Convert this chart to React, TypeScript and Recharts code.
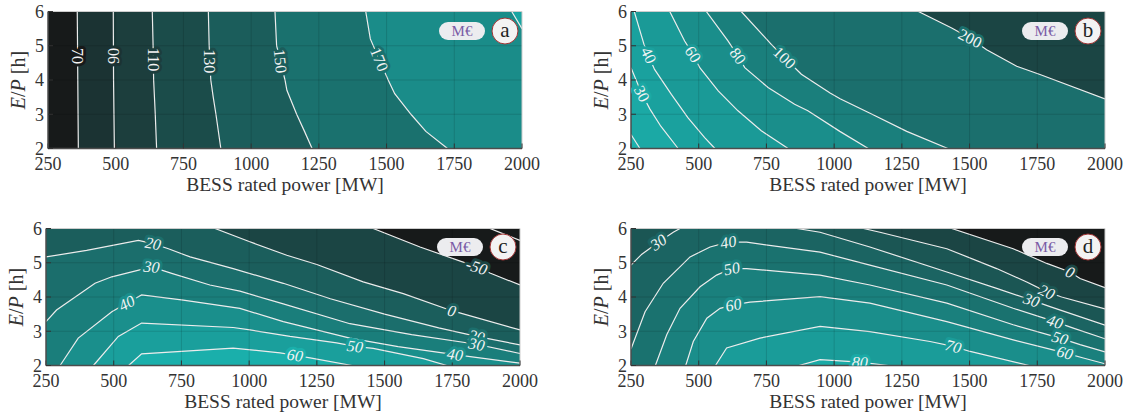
import { ComposedChart, Area, Line, Scatter, XAxis, YAxis, ReferenceLine } from 'recharts'

type Pt = { x: number; y: number }
type Lab = { x: number; y: number; level: number }

const xTicks = [250, 500, 750, 1000, 1250, 1500, 1750, 2000]
const yTicks = [2, 3, 4, 5, 6]
// whole domain, used as the background band
const frame = [{ x: 250, y: 6 }, { x: 2000, y: 6 }]

// ---- panel a ----
const levelsA = [190, 170, 150, 130, 110, 90, 70]
const a190 = [{ x: 250, y: 6.5 }, { x: 1962, y: 6 }, { x: 2000, y: 5.5 }]
const a170 = [{ x: 250, y: 6.5 }, { x: 1423, y: 6 }, { x: 1440, y: 5.2 }, { x: 1506, y: 4.0 }, { x: 1530, y: 3.6 }, { x: 1590, y: 3.0 }, { x: 1645, y: 2.5 }, { x: 1725, y: 2 }]
const a150 = [{ x: 250, y: 6.5 }, { x: 1088, y: 6 }, { x: 1094, y: 5 }, { x: 1125, y: 4 }, { x: 1132, y: 3.7 }, { x: 1168, y: 3 }, { x: 1197, y: 2.5 }, { x: 1225, y: 2 }]
const a130 = [{ x: 250, y: 6.5 }, { x: 842, y: 6 }, { x: 845, y: 5 }, { x: 851, y: 4 }, { x: 860, y: 3.5 }, { x: 870, y: 3 }, { x: 888, y: 2 }]
const a110 = [{ x: 250, y: 6.5 }, { x: 635, y: 6 }, { x: 638, y: 5 }, { x: 640, y: 4 }, { x: 646, y: 3 }, { x: 651, y: 2 }]
const a90 = [{ x: 250, y: 6.5 }, { x: 491, y: 6 }, { x: 492, y: 4 }, { x: 495, y: 2 }]
const a70 = [{ x: 250, y: 6.5 }, { x: 358, y: 6 }, { x: 360, y: 4 }, { x: 362, y: 2 }]
const fillsA = ['#1a8c89', '#1a716e', '#1b5d5b', '#1b4c4a', '#1c3e3d', '#1b3333', '#171a1a']
const labelsA = [
  { x: 359, y: 4.7, level: 70 }, { x: 491.5, y: 4.7, level: 90 }, { x: 639, y: 4.6, level: 110 },
  { x: 848, y: 4.55, level: 130 }, { x: 1108, y: 4.55, level: 150 }, { x: 1473, y: 4.6, level: 170 },
]
const anglesA = [90, -90, 90, 90, 84, 68]

// ---- panel b ----
const levelsB = [200, 100, 80, 60, 40, 30, 20]
const b200 = [{ x: 250, y: 7 }, { x: 1311, y: 6 }, { x: 1434, y: 5.52 }, { x: 1502, y: 5.22 }, { x: 1563, y: 4.88 }, { x: 1674, y: 4.4 }, { x: 1760, y: 4.16 }, { x: 2000, y: 3.45 }]
const b100 = [{ x: 250, y: 7 }, { x: 657, y: 6 }, { x: 768, y: 5.04 }, { x: 817, y: 4.65 }, { x: 879, y: 4.17 }, { x: 985, y: 3.62 }, { x: 1022, y: 3.45 }, { x: 1140, y: 3.0 }, { x: 1268, y: 2.5 }, { x: 1420, y: 2 }]
const b80 = [{ x: 250, y: 7 }, { x: 528, y: 6 }, { x: 608, y: 5.14 }, { x: 645, y: 4.7 }, { x: 670, y: 4.36 }, { x: 756, y: 3.78 }, { x: 854, y: 3.29 }, { x: 903, y: 3.1 }, { x: 1021, y: 2.5 }, { x: 1126, y: 2 }]
const b60 = [{ x: 250, y: 6.6 }, { x: 393, y: 6 }, { x: 448, y: 5.14 }, { x: 479, y: 4.75 }, { x: 504, y: 4.36 }, { x: 572, y: 3.68 }, { x: 645, y: 3.1 }, { x: 731, y: 2.52 }, { x: 830, y: 2 }]
const b40 = [{ x: 250, y: 6.2 }, { x: 262, y: 6 }, { x: 298, y: 5.04 }, { x: 315, y: 4.7 }, { x: 337, y: 4.31 }, { x: 399, y: 3.58 }, { x: 460, y: 2.9 }, { x: 522, y: 2.32 }, { x: 560, y: 2 }]
const b30 = [{ x: 250, y: 4.36 }, { x: 270, y: 3.98 }, { x: 290, y: 3.6 }, { x: 320, y: 3.15 }, { x: 360, y: 2.65 }, { x: 424, y: 2 }]
const b20 = [{ x: 250, y: 2.41 }, { x: 283, y: 2 }]
const fillsB = ['#1b6f6d', '#1a7f7c', '#1a8e8b', '#1a9a97', '#1aa19e', '#1ba9a5', '#1bb1ad']
const labelsB = [
  { x: 290, y: 3.6, level: 30 }, { x: 315, y: 4.72, level: 40 }, { x: 479, y: 4.75, level: 60 },
  { x: 645, y: 4.7, level: 80 }, { x: 817, y: 4.65, level: 100 }, { x: 1502, y: 5.22, level: 200 },
]
const anglesB = [62, 64, 57, 54, 44, 27]

// ---- panel c ----
const levelsC = [-50, 0, 20, 30, 40, 50, 60]
const cm50 = [{ x: 250, y: 7 }, { x: 1458, y: 6 }, { x: 1631, y: 5.46 }, { x: 1840, y: 4.88 }, { x: 1889, y: 4.7 }, { x: 2000, y: 4.35 }]
const c0 = [{ x: 250, y: 6.5 }, { x: 874, y: 6 }, { x: 1000, y: 5.62 }, { x: 1139, y: 5.22 }, { x: 1250, y: 4.95 }, { x: 1421, y: 4.44 }, { x: 1569, y: 4.1 }, { x: 1748, y: 3.6 }, { x: 2000, y: 3.04 }]
const c20 = [{ x: 250, y: 5.17 }, { x: 400, y: 5.36 }, { x: 591, y: 5.65 }, { x: 645, y: 5.56 }, { x: 702, y: 5.41 }, { x: 782, y: 5.17 }, { x: 941, y: 4.83 }, { x: 1126, y: 4.4 }, { x: 1300, y: 3.95 }, { x: 1500, y: 3.5 }, { x: 1700, y: 3.1 }, { x: 1840, y: 2.85 }, { x: 2000, y: 2.6 }]
const c30 = [{ x: 250, y: 3.28 }, { x: 289, y: 3.62 }, { x: 431, y: 4.4 }, { x: 493, y: 4.59 }, { x: 640, y: 4.88 }, { x: 714, y: 4.69 }, { x: 855, y: 4.35 }, { x: 966, y: 4.17 }, { x: 1126, y: 3.8 }, { x: 1372, y: 3.22 }, { x: 1600, y: 2.9 }, { x: 1840, y: 2.62 }, { x: 2000, y: 2.35 }]
const c40 = [{ x: 302, y: 2 }, { x: 369, y: 2.8 }, { x: 493, y: 3.57 }, { x: 548, y: 3.82 }, { x: 603, y: 4.06 }, { x: 757, y: 3.91 }, { x: 966, y: 3.67 }, { x: 1126, y: 3.28 }, { x: 1372, y: 2.8 }, { x: 1550, y: 2.55 }, { x: 1760, y: 2.32 }, { x: 2000, y: 2.07 }]
const c50 = [{ x: 425, y: 2 }, { x: 517, y: 2.85 }, { x: 603, y: 3.24 }, { x: 941, y: 3.11 }, { x: 1003, y: 3.04 }, { x: 1151, y: 2.85 }, { x: 1323, y: 2.66 }, { x: 1391, y: 2.56 }, { x: 1458, y: 2.5 }, { x: 1643, y: 2.2 }, { x: 1730, y: 2 }]
const c60 = [{ x: 555, y: 2 }, { x: 603, y: 2.34 }, { x: 941, y: 2.51 }, { x: 1114, y: 2.37 }, { x: 1169, y: 2.3 }, { x: 1225, y: 2.22 }, { x: 1380, y: 2 }]
const cCorner = [{ x: 1889, y: 6 }, { x: 2000, y: 5.65 }]
const fillsC = ['#1b4544', '#1b5e5c', '#1b6e6c', '#1a7e7b', '#1a8f8c', '#1a9f9c', '#1aafab']
const labelsC = [
  { x: 645, y: 5.56, level: 20 }, { x: 640, y: 4.88, level: 30 }, { x: 548, y: 3.82, level: 40 },
  { x: 1169, y: 2.3, level: 60 }, { x: 1391, y: 2.56, level: 50 }, { x: 1840, y: 4.88, level: -50 },
  { x: 1748, y: 3.6, level: 0 }, { x: 1840, y: 2.85, level: 20 }, { x: 1840, y: 2.62, level: 30 },
  { x: 1760, y: 2.32, level: 40 },
]
const anglesC = [10, 6, -28, 8, 8, 18, 15, 12, 10, 8]

// ---- panel d ----
const levelsD = [0, 20, 30, 40, 50, 60, 70, 80]
const d0 = [{ x: 250, y: 7 }, { x: 1434, y: 6 }, { x: 1661, y: 5.41 }, { x: 1785, y: 4.98 }, { x: 1871, y: 4.73 }, { x: 1908, y: 4.54 }, { x: 2000, y: 4.27 }]
const d20 = [{ x: 250, y: 6.6 }, { x: 1108, y: 6 }, { x: 1169, y: 5.89 }, { x: 1416, y: 5.41 }, { x: 1600, y: 4.83 }, { x: 1711, y: 4.44 }, { x: 1785, y: 4.15 }, { x: 1840, y: 4.0 }, { x: 2000, y: 3.65 }]
const d30 = [{ x: 250, y: 4.93 }, { x: 290, y: 5.25 }, { x: 351, y: 5.6 }, { x: 406, y: 5.89 }, { x: 431, y: 6 }, { x: 640, y: 6.5 }, { x: 862, y: 6 }, { x: 948, y: 5.89 }, { x: 1132, y: 5.46 }, { x: 1416, y: 4.73 }, { x: 1600, y: 4.25 }, { x: 1729, y: 3.91 }, { x: 1797, y: 3.72 }, { x: 2000, y: 3.18 }]
const d40 = [{ x: 250, y: 2.48 }, { x: 302, y: 3.57 }, { x: 369, y: 4.4 }, { x: 468, y: 5.17 }, { x: 542, y: 5.46 }, { x: 609, y: 5.6 }, { x: 677, y: 5.6 }, { x: 948, y: 5.31 }, { x: 1132, y: 4.93 }, { x: 1416, y: 4.35 }, { x: 1661, y: 3.67 }, { x: 1815, y: 3.28 }, { x: 1883, y: 3.09 }, { x: 2000, y: 2.78 }]
const d50 = [{ x: 340, y: 2 }, { x: 382, y: 2.9 }, { x: 431, y: 3.67 }, { x: 505, y: 4.3 }, { x: 566, y: 4.64 }, { x: 622, y: 4.83 }, { x: 677, y: 4.83 }, { x: 948, y: 4.64 }, { x: 1132, y: 4.35 }, { x: 1416, y: 3.82 }, { x: 1661, y: 3.19 }, { x: 1834, y: 2.8 }, { x: 1908, y: 2.61 }, { x: 2000, y: 2.4 }]
const d60 = [{ x: 452, y: 2 }, { x: 480, y: 2.7 }, { x: 530, y: 3.38 }, { x: 579, y: 3.67 }, { x: 628, y: 3.77 }, { x: 689, y: 3.85 }, { x: 948, y: 4.01 }, { x: 1132, y: 3.82 }, { x: 1416, y: 3.28 }, { x: 1661, y: 2.75 }, { x: 1852, y: 2.37 }, { x: 1920, y: 2.22 }, { x: 2000, y: 2.05 }]
const d70 = [{ x: 562, y: 2 }, { x: 603, y: 2.51 }, { x: 726, y: 2.8 }, { x: 948, y: 3.14 }, { x: 1132, y: 2.99 }, { x: 1354, y: 2.7 }, { x: 1440, y: 2.56 }, { x: 1502, y: 2.41 }, { x: 1720, y: 2 }]
const d80 = [{ x: 870, y: 2 }, { x: 948, y: 2.17 }, { x: 1095, y: 2.1 }, { x: 1200, y: 2 }]
const fillsD = ['#1b4544', '#1b5654', '#1b6462', '#1a726f', '#1a807d', '#1a8e8b', '#1a9c99', '#1aaaa6']
const labelsD = [
  { x: 351, y: 5.6, level: 30 }, { x: 609, y: 5.6, level: 40 }, { x: 622, y: 4.83, level: 50 },
  { x: 628, y: 3.77, level: 60 }, { x: 1095, y: 2.1, level: 80 }, { x: 1440, y: 2.56, level: 70 },
  { x: 1871, y: 4.73, level: 0 }, { x: 1785, y: 4.15, level: 20 }, { x: 1729, y: 3.91, level: 30 },
  { x: 1815, y: 3.28, level: 40 }, { x: 1834, y: 2.8, level: 50 }, { x: 1852, y: 2.37, level: 60 },
]
const anglesD = [-35, -10, -12, -11, 3, 14, 24, 23, 19, 18, 17, 15]

const W = 540
const H = 200
const AX_W = 40
const AX_H = 30
// plot area sits at left 48, top 11.5, right W-18, bottom H-51.5
const M = { top: 11.5, right: 18, bottom: 51.5 - AX_H, left: 48 - AX_W }
const serif = '"Liberation Serif", "DejaVu Serif", serif'
const lineColor = '#ececec'

type PanelProps = {
  left: number
  top: number
  tag: string
  levels: number[]
  lines: Pt[][]
  fills: string[]
  bg: string
  labels: Lab[]
  angles: number[]
  italic: boolean
  extra?: Pt[]
}

function ContourPanel(p: PanelProps) {
  const marks = p.labels.map((l, i) => ({ ...l, rot: p.angles[i], halo: p.fills[p.levels.indexOf(l.level)] }))
  const plotL = p.left + 48
  const plotT = p.top + M.top
  const plotR = p.left + W - M.right
  const plotB = p.top + H - 51.5

  const drawLabel = (s: any) => (
    <text
      x={s.cx}
      y={s.cy}
      transform={`rotate(${s.payload.rot} ${s.cx} ${s.cy})`}
      textAnchor="middle"
      dominantBaseline="central"
      fontFamily={serif}
      fontSize={16}
      fontStyle={p.italic ? 'italic' : 'normal'}
      fill="#f4f4f4"
      stroke={s.payload.halo}
      strokeWidth={6}
      strokeLinejoin="round"
      paintOrder="stroke"
    >
      {s.payload.level}
    </text>
  )

  return (
    <>
      <div style={{ position: 'absolute', left: p.left, top: p.top }}>
        <ComposedChart width={W} height={H} margin={M}>
          <Area data={frame} dataKey="y" type="linear" fill={p.bg} fillOpacity={1} stroke="none" baseValue={2} dot={false} activeDot={false} isAnimationActive={false} />
          {p.lines.map((pts, i) => (
            <Area key={i} data={pts} dataKey="y" type="linear" fill={p.fills[i]} fillOpacity={1} stroke={lineColor} strokeWidth={1.2} baseValue={2} dot={false} activeDot={false} isAnimationActive={false} />
          ))}
          {p.extra && <Line data={p.extra} dataKey="y" type="linear" stroke={lineColor} strokeWidth={1.2} dot={false} activeDot={false} isAnimationActive={false} />}
          {xTicks.slice(1, -1).map(v => <ReferenceLine key={'gx' + v} x={v} stroke="#000" strokeOpacity={0.13} />)}
          {yTicks.slice(1, -1).map(v => <ReferenceLine key={'gy' + v} y={v} stroke="#000" strokeOpacity={0.13} />)}
          <ReferenceLine x={2000} stroke="#cdcdcd" />
          <ReferenceLine y={6} stroke="#cdcdcd" />
          <Scatter data={marks} dataKey="y" shape={drawLabel} isAnimationActive={false} />
          <XAxis
            type="number" dataKey="x" domain={[250, 2000]} ticks={xTicks} interval={0} allowDataOverflow
            height={AX_H} tickSize={-5} tickMargin={14}
            tick={{ fill: '#333', fontSize: 18, fontFamily: serif }}
            axisLine={{ stroke: '#4d4d4d', strokeWidth: 1.5 }} tickLine={{ stroke: '#333' }}
          />
          <YAxis
            type="number" dataKey="y" domain={[2, 6]} ticks={yTicks} interval={0} allowDataOverflow
            width={AX_W} tickSize={-5} tickMargin={9}
            tick={{ fill: '#333', fontSize: 18, fontFamily: serif }}
            axisLine={{ stroke: '#4d4d4d', strokeWidth: 1.5 }} tickLine={{ stroke: '#333' }}
          />
        </ComposedChart>
      </div>
      <div style={{ position: 'absolute', left: (plotL + plotR) / 2, top: plotB + 36.5, transform: 'translate(-50%, -50%)', fontFamily: serif, fontSize: 19.5, color: '#333', whiteSpace: 'nowrap' }}>
        BESS rated power [MW]
      </div>
      <div style={{ position: 'absolute', left: plotL - 30, top: (plotT + plotB) / 2, transform: 'translate(-50%, -50%) rotate(-90deg)', fontFamily: serif, fontSize: 20, color: '#333', whiteSpace: 'nowrap' }}>
        <i>E</i>/<i>P</i> [h]
      </div>
      <div style={{ position: 'absolute', left: plotR - 60, top: plotT + 19, transform: 'translate(-50%, -50%)', width: 46, height: 18, borderRadius: 9, background: '#ececef', color: '#7a5ca6', fontFamily: serif, fontSize: 15, lineHeight: '18px', textAlign: 'center' }}>
        M€
      </div>
      <div style={{ position: 'absolute', left: plotR - 17, top: plotT + 19, transform: 'translate(-50%, -50%)', width: 27, height: 27, boxSizing: 'border-box', borderRadius: '50%', border: '1.5px solid #a03333', background: '#f3f3f3', color: '#222', fontFamily: serif, fontSize: 21, lineHeight: '23px', textAlign: 'center' }}>
        {p.tag}
      </div>
    </>
  )
}

export default function App() {
  return (
    <div style={{ position: 'absolute', left: 0, top: 0, width: 1131, height: 415, background: '#fff', overflow: 'hidden' }}>
      <ContourPanel left={0} top={0.2} tag="a" levels={levelsA} lines={[a190, a170, a150, a130, a110, a90, a70]} fills={fillsA} bg="#1aa5a2" labels={labelsA} angles={anglesA} italic={false} />
      <ContourPanel left={583} top={0.2} tag="b" levels={levelsB} lines={[b200, b100, b80, b60, b40, b30, b20]} fills={fillsB} bg="#1b4544" labels={labelsB} angles={anglesB} italic={false} />
      <ContourPanel left={-2} top={216.5} tag="c" levels={levelsC} lines={[cm50, c0, c20, c30, c40, c50, c60]} fills={fillsC} bg="#171a1a" labels={labelsC} angles={anglesC} italic={true} extra={cCorner} />
      <ContourPanel left={583} top={216.5} tag="d" levels={levelsD} lines={[d0, d20, d30, d40, d50, d60, d70, d80]} fills={fillsD} bg="#171a1a" labels={labelsD} angles={anglesD} italic={true} />
    </div>
  )
}
